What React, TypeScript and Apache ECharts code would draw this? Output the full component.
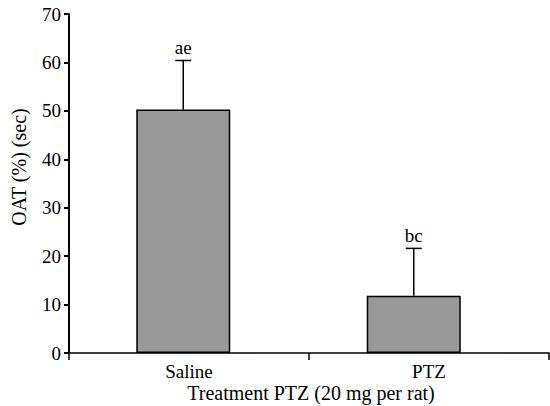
import React, { useEffect, useRef } from "react";
import * as echarts from "echarts";

const categories = ["Saline", "PTZ"];
const means = [50.3, 11.8];
const upperErrors = [10.1, 9.8];
const letters = ["ae", "bc"];
const yTicks = { min: 0, max: 70, interval: 10 };
const xTitle = "Treatment PTZ (20 mg per rat)";
const yTitle = "OAT (%) (sec)";

const FONT = "'Liberation Serif', 'Times New Roman', serif";

export default function App() {
  const ref = useRef<HTMLDivElement>(null);
  useEffect(() => {
    if (!ref.current) return;
    const chart = echarts.init(ref.current, null, { renderer: "svg" });
    const yCommon = {
      type: "value",
      min: yTicks.min,
      max: yTicks.max,
      interval: yTicks.interval,
      splitLine: { show: false },
    };
    chart.setOption({
      animation: false,
      textStyle: { fontFamily: FONT, color: "#000" },
      grid: [
        { left: 69, right: 1, top: 14, bottom: 53, containLabel: false },
        { left: 68, right: 21, top: 14, bottom: 53, containLabel: false },
      ],
      xAxis: [
        {
          type: "category",
          data: categories,
          gridIndex: 0,
          axisLine: { lineStyle: { color: "#000", width: 1.5 } },
          axisTick: { show: true, length: 7, lineStyle: { color: "#000", width: 1.5 } },
          axisLabel: { fontFamily: FONT, fontSize: 19, color: "#000", margin: 9 },
          z: 5,
        },
        {
          type: "category",
          data: categories,
          gridIndex: 1,
          show: false,
        },
      ],
      yAxis: [
        {
          ...yCommon,
          gridIndex: 0,
          axisLine: { show: true, lineStyle: { color: "#000", width: 2 } },
          axisTick: { show: true, length: 5, lineStyle: { color: "#000", width: 2 } },
          axisLabel: { fontFamily: FONT, fontSize: 19, color: "#000", margin: 8 },
          z: 5,
        },
        { ...yCommon, gridIndex: 1, show: false },
      ],
      graphic: [
        {
          type: "text",
          x: 311,
          y: 393,
          style: {
            text: xTitle,
            fontFamily: FONT,
            fontSize: 20,
            fill: "#000",
            align: "center",
            verticalAlign: "middle",
          },
        },
        {
          type: "text",
          x: 19,
          y: 167,
          rotation: Math.PI / 2,
          style: {
            text: yTitle,
            fontFamily: FONT,
            fontSize: 20,
            fill: "#000",
            align: "center",
            verticalAlign: "middle",
          },
        },
      ],
      series: [
        {
          type: "bar",
          xAxisIndex: 1,
          yAxisIndex: 1,
          data: means,
          barWidth: 94,
          itemStyle: { color: "#999999", borderColor: "#000", borderWidth: 1.5 },
          z: 2,
        },
        {
          type: "custom",
          xAxisIndex: 1,
          yAxisIndex: 1,
          z: 3,
          data: means.map((m, i) => [i, m, m + upperErrors[i]]),
          renderItem: (params: any, api: any) => {
            const base = api.coord([api.value(0), api.value(1)]);
            const top = api.coord([api.value(0), api.value(2)]);
            const half = 8;
            return {
              type: "group",
              children: [
                {
                  type: "line",
                  shape: { x1: base[0], y1: base[1], x2: top[0], y2: top[1] },
                  style: { stroke: "#000", lineWidth: 1.5 },
                },
                {
                  type: "line",
                  shape: { x1: top[0] - half, y1: top[1], x2: top[0] + half, y2: top[1] },
                  style: { stroke: "#000", lineWidth: 1.5 },
                },
                {
                  type: "text",
                  x: top[0],
                  y: top[1] - 3,
                  style: {
                    text: letters[params.dataIndex],
                    fontFamily: FONT,
                    fontSize: 19,
                    fill: "#000",
                    align: "center",
                    verticalAlign: "bottom",
                  },
                },
              ],
            };
          },
        },
      ],
    });
    return () => chart.dispose();
  }, []);
  return <div ref={ref} style={{ width: 550, height: 406, position: "absolute", left: 0, top: 0 }} />;
}
